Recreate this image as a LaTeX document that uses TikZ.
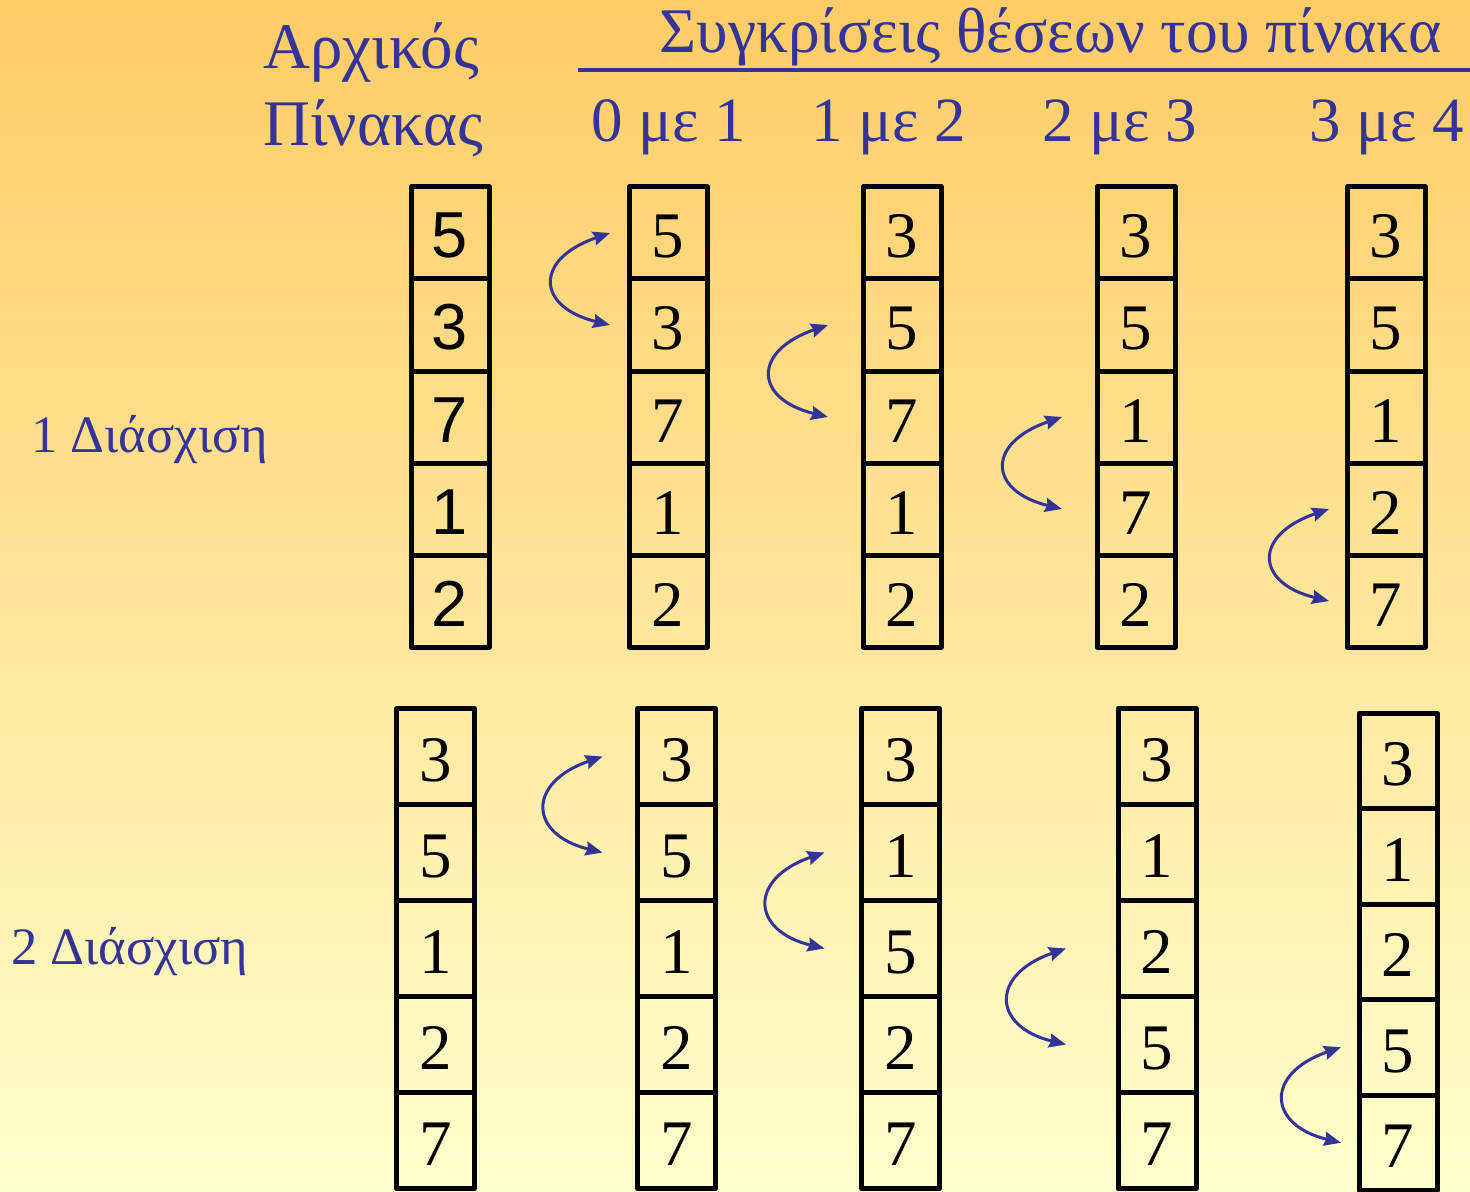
\documentclass[tikz,border=0pt]{standalone}
\usepackage{fontspec}
\setmainfont{Liberation Serif}
\newfontfamily\arialfont{Liberation Sans}
\usetikzlibrary{arrows.meta}
\definecolor{txtblue}{RGB}{51,51,153}
\definecolor{bgtop}{RGB}{255,204,102}
\definecolor{bgbot}{RGB}{255,255,204}
\newcommand{\fsz}[1]{\fontsize{#1}{#1}\selectfont}

\begin{document}
\begin{tikzpicture}[x=0.5pt, y=-0.5pt, line width=2.5pt, line join=round,
  cell/.style={draw, minimum width=39pt, inner sep=0pt, font=\fsz{32.5pt},
    text height=25pt, text depth=0pt},
  swap/.style={txtblue, line width=1.5pt,
    {Stealth[length=8.5pt, width=7pt, inset=1pt]}-{Stealth[length=8.5pt, width=7pt, inset=1pt]}},
  head/.style={txtblue, anchor=base west, inner sep=0pt, font=\fsz{32.5pt}}]
  \useasboundingbox (0,0) rectangle (1470,1192);
  \shade[top color=bgtop, bottom color=bgbot] (0,0) rectangle (1470,1192);

  % headings
  \node[head] (arx) at (261,69) {Αρχικός};
  \node[head] (pin) at (261,146) {Πίνακας};
  \node[head, font=\fsz{31.8pt}] (syg) at (657,53) {Συγκρίσεις θέσεων του πίνακα};
  \coordinate (ul) at (578,70);
  \draw[txtblue, line width=2pt] (ul) -- ++(892,0);
  \foreach \n/\x/\t in {c0/589/0 με 1, c1/809/1 με 2, c2/1040/2 με 3, c3/1307/3 με 4}
    \node[head, font=\fsz{31.5pt}] (\n) at (\x,142) {\t};
  \node[head, font=\fsz{26.3pt}] (pass1) at (29,452) {1 Διάσχιση};
  \node[head, font=\fsz{26.3pt}] (pass2) at (9,964) {2 Διάσχιση};

  % first pass
  \foreach \v [count=\r from 0] in {5,3,7,1,2}
    \node[cell, minimum height=46pt, font=\arialfont\fsz{32.5pt}] (t0-\r) at (450,233+92*\r) {\v};
  \foreach \c/\cx/\vals in {1/668/{5,3,7,1,2}, 2/902/{3,5,7,1,2}, 3/1136/{3,5,1,7,2}, 4/1386/{3,5,1,2,7}}
    \foreach \v [count=\r from 0] in \vals
      \node[cell, minimum height=46pt] (t\c-\r) at (\cx,233+92*\r) {\v};
  \foreach \c/\a/\b/\d in {1/0/1/8.25pt, 2/1/2/16.25pt, 3/2/3/16.25pt, 4/3/4/7.75pt}
    \draw[swap] ([xshift=-\d]t\c-\a.west) .. controls +(-76,26) and +(-74,-18) .. ([xshift=-\d]t\c-\b.west);

  % second pass
  \foreach \c/\cx/\top/\h/\vals in {0/435.5/708.5/96/{3,5,1,2,7}, 1/676.5/708.5/96/{3,5,1,2,7},
      2/900.5/708.5/96/{3,1,5,2,7}, 3/1157/708.5/96/{3,1,2,5,7}, 4/1398/713/95.5/{3,1,2,5,7}}
    \foreach \v [count=\r from 0] in \vals
      \node[cell, minimum height=\h*0.5pt] (b\c-\r) at (\cx,\top+\h*\r+\h/2) {\v};
  \foreach \c/\a/\b/\d in {1/0/1/16.25pt, 2/1/2/17.25pt, 3/2/3/24.75pt, 4/3/4/7.75pt}
    \draw[swap] ([xshift=-\d]b\c-\a.west) .. controls +(-76,26) and +(-74,-18) .. ([xshift=-\d]b\c-\b.west);
\end{tikzpicture}
\end{document}
